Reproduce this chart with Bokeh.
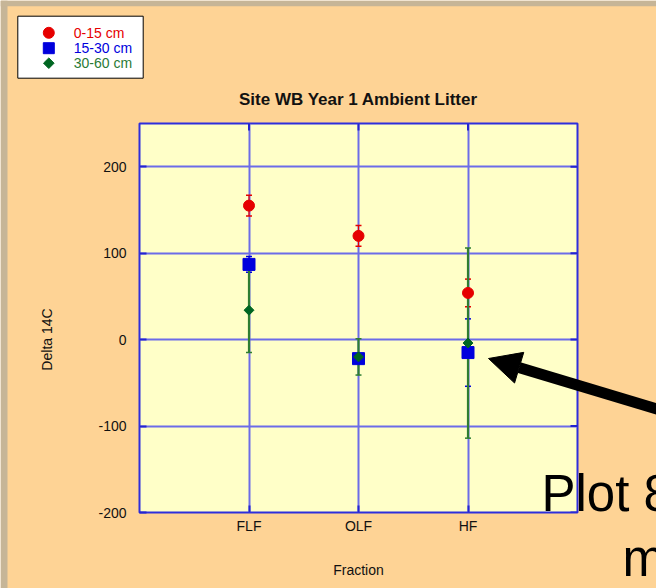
import numpy as np
from bokeh.plotting import figure
from bokeh.models import (Range1d, FixedTicker, Whisker, TeeHead, Arrow, NormalHead,
                          Label, ColumnDataSource)
from bokeh.core.properties import value
from bokeh.embed import file_html
from bokeh.resources import INLINE

# ---------------- data ----------------
categories = ["FLF", "OLF", "HF"]
series_labels = ["0-15 cm", "15-30 cm", "30-60 cm"]
delta_0_15 = [155, 120, 54]
err_0_15 = [12, 12, 16]
delta_15_30 = [87, -22, -15]
err_15_30 = [9, 5, 39]
delta_30_60 = [34, -20, -4]
err_30_60 = [49, 21, 110]
y_ticks = [-200, -100, 0, 100, 200]
y_min, y_max = -200, 250
title_text = "Site WB Year 1 Ambient Litter"
x_title = "Fraction"
y_title = "Delta 14C"
slide_line1 = "Plot 8"
slide_line2 = "m"

FONT = "Liberation Sans"
W, H = 656, 588
L, R, T, B = 139, 79, 123, 76
x_max = len(categories) + 1
x_pos = list(range(1, len(categories) + 1))

# ---------------- chart ----------------
p = figure(width=W, height=H, x_range=Range1d(0, x_max), y_range=Range1d(y_min, y_max),
           output_backend="svg", toolbar_location=None,
           min_border_left=L, min_border_right=R, min_border_top=T, min_border_bottom=B,
           background_fill_color="#FFFFC8", border_fill_color="#FED395",
           outline_line_color="#2E2EDC", outline_line_width=2)

p.xgrid.ticker = FixedTicker(ticks=x_pos)
p.ygrid.ticker = FixedTicker(ticks=y_ticks)
for g in (p.xgrid, p.ygrid):
    g.grid_line_color = "#6C6CE8"
    g.grid_line_width = 2

tick_color = "#2424D0"

xa = p.xaxis[0]
xa.ticker = FixedTicker(ticks=x_pos)
xa.major_label_overrides = {i: c for i, c in zip(x_pos, categories)}
xa.axis_line_color = None
xa.major_tick_in = 7
xa.major_tick_out = 0
xa.major_tick_line_color = tick_color
xa.major_tick_line_width = 2
xa.minor_tick_line_color = None
xa.major_label_standoff = 5
xa.major_label_text_font = FONT
xa.major_label_text_font_size = "14px"
xa.major_label_text_color = "#111111"
xa.axis_label = x_title
xa.axis_label_standoff = 25
xa.axis_label_text_font = FONT
xa.axis_label_text_font_size = "14px"
xa.axis_label_text_font_style = "normal"
xa.axis_label_text_color = "#111111"

ya = p.yaxis[0]
ya.ticker = FixedTicker(ticks=y_ticks)
ya.major_label_overrides = {t: str(t) for t in y_ticks}
ya.axis_line_color = None
ya.major_tick_in = 7
ya.major_tick_out = 0
ya.major_tick_line_color = tick_color
ya.major_tick_line_width = 2
ya.minor_tick_line_color = None
ya.major_label_standoff = 13
ya.major_label_text_font = FONT
ya.major_label_text_font_size = "14px"
ya.major_label_text_color = "#111111"

# inward ticks on the top and right frame edges (half of each dash is clipped by the frame)
p.scatter(x=x_pos, y=[y_max] * len(x_pos), marker="dash", angle=np.pi / 2, size=14,
          line_color=tick_color, line_width=2)
p.scatter(x=[x_max] * len(y_ticks), y=y_ticks, marker="dash", size=14,
          line_color=tick_color, line_width=2)

p.title.text = title_text
p.title.align = "center"
p.title.text_font = FONT
p.title.text_font_size = "17px"
p.title.text_font_style = "bold"
p.title.text_color = "#111111"
p.title.standoff = 29

series = [
    (delta_0_15, err_0_15, "circle", 11, 0.0, "#E60000", "#E60000", 1.2, "#E60000"),
    (delta_15_30, err_15_30, "square", 12, 0.0, "#0000DD", "#0000DD", 1.2, "#0000DD"),
    (delta_30_60, err_30_60, "square", 7, np.pi / 4, "#006622", "#2E7D32", 2.2, "#2A7A35"),
]

for vals, errs, mk, sz, ang, col, ecol, ew, tcol in series:
    src = ColumnDataSource(dict(x=x_pos,
                                upper=[v + e for v, e in zip(vals, errs)],
                                lower=[v - e for v, e in zip(vals, errs)]))
    p.add_layout(Whisker(source=src, base="x", upper="upper", lower="lower",
                         dimension="height", line_color=ecol, line_width=ew,
                         upper_head=TeeHead(size=6, line_color=ecol, line_width=1.5),
                         lower_head=TeeHead(size=6, line_color=ecol, line_width=1.5)))

for vals, errs, mk, sz, ang, col, ecol, ew, tcol in series:
    p.scatter(x=x_pos, y=vals, marker=mk, size=sz, angle=ang,
              fill_color=col, line_color=col, line_width=1)

# ---------------- slide overlay (pixel coordinates, y measured upward) ----------------
q = figure(width=W, height=H, x_range=Range1d(0, W), y_range=Range1d(0, H),
           output_backend="svg", toolbar_location=None, min_border=0,
           x_axis_location=None, y_axis_location=None,
           background_fill_alpha=0, border_fill_alpha=0, outline_line_color=None,
           styles={"position": "absolute", "top": "0px", "left": "0px"})
q.grid.visible = False


def up(py):
    return H - py


# textured slide edge
q.quad(left=[0, 0], right=[7, W], bottom=[0, up(5.7)], top=[H, H],
       fill_color="#C6B597", line_color=None)

# legend box
box = dict(left=17.3, right=142.7, top=15.7, bottom=77.7)
q.quad(left=[box["left"]], right=[box["right"]], top=[up(box["top"])], bottom=[up(box["bottom"])],
       fill_color="white", line_color="black", line_width=1)
row_cy = [32.3, 47.7, 62.7]
glyph_cx = 48.3
text_x = 73.3
leg_sizes = [11, 11, 7.5]
for (vals, errs, mk, sz, ang, col, ecol, ew, tcol), cy, ls in zip(series, row_cy, leg_sizes):
    q.scatter(x=[glyph_cx], y=[up(cy)], marker=mk, size=ls, angle=ang,
              fill_color=col, line_color=col)
q.text(x=[text_x] * 3, y=[up(c) for c in row_cy], text=series_labels,
       text_color=[s[8] for s in series], text_baseline="middle", text_align="left",
       text_font=value(FONT), text_font_size="14px")

# y-axis title
q.add_layout(Label(x=46.7, y=up(339), text=y_title, angle=np.pi / 2, text_align="center",
                   text_baseline="middle", text_font=FONT, text_font_size="14px",
                   text_color="#111111"))

# arrow
q.add_layout(Arrow(x_start=700, y_start=up(421.6), x_end=488, y_end=up(358),
                   line_color="black", line_width=11,
                   end=NormalHead(size=32, fill_color="black", line_color="black")))

# slide text
q.add_layout(Label(x=541, y=up(493), text=slide_line1, text_font=FONT, text_font_size="51px",
                   text_baseline="alphabetic", text_align="left", text_color="black"))
q.add_layout(Label(x=622, y=up(558), text=slide_line2, text_font=FONT, text_font_size="51px",
                   text_baseline="alphabetic", text_align="left", text_color="black"))

open("out.html", "w").write(file_html([p, q], INLINE))
